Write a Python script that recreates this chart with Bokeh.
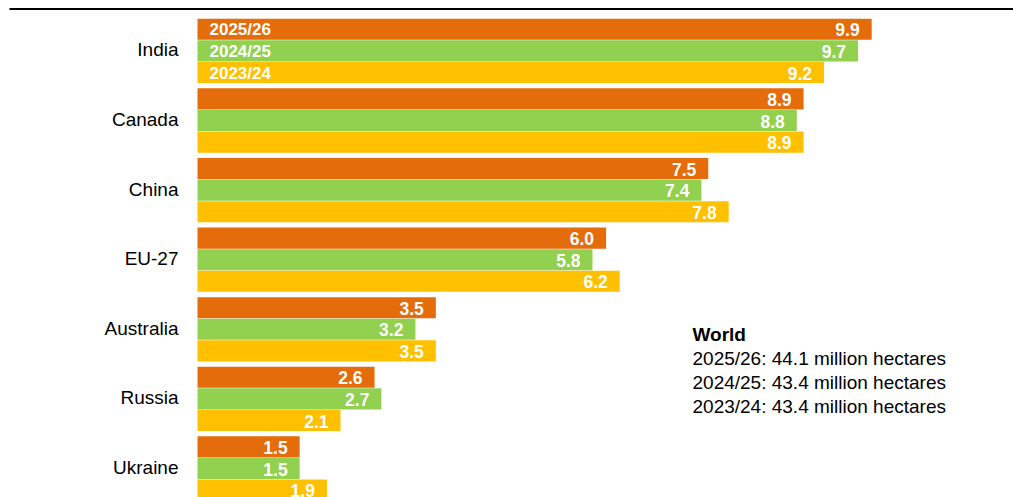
from bokeh.plotting import figure
from bokeh.models import ColumnDataSource, Range1d
from bokeh.core.properties import value
from bokeh.embed import file_html
from bokeh.resources import INLINE

countries = ["India", "Canada", "China", "EU-27", "Australia", "Russia", "Ukraine"]
years = ["2025/26", "2024/25", "2023/24"]
v2526 = [9.9, 8.9, 7.5, 6.0, 3.5, 2.6, 1.5]
v2425 = [9.7, 8.8, 7.4, 5.8, 3.2, 2.7, 1.5]
v2324 = [9.2, 8.9, 7.8, 6.2, 3.5, 2.1, 1.9]
world_title = "World"
world_lines = ["2025/26: 44.1 million hectares",
               "2024/25: 43.4 million hectares",
               "2023/24: 43.4 million hectares"]
colors = ["#E46C0A", "#92D050", "#FFC000"]

# layout (pixel-based vertical scale)
W, H = 1013, 497
PX_PER_UNIT = 68.1
LEFT = 197
SLOT = 21.6
PITCH = 69.6
TOP0 = 28.8
FONT = value("Liberation Sans")

p = figure(width=W, height=H, output_backend="svg", toolbar_location=None,
           x_range=Range1d(-LEFT / PX_PER_UNIT, (W - LEFT) / PX_PER_UNIT),
           y_range=Range1d(H, 0),
           x_axis_location=None, y_axis_location=None, min_border=0)
p.grid.visible = False
p.outline_line_color = None
p.background_fill_color = "white"

series = [v2526, v2425, v2324]
for k, vals in enumerate(series):
    ys = [TOP0 + PITCH * i + SLOT * k for i in range(len(countries))]
    src = ColumnDataSource(dict(y=ys, v=vals, lab=[f"{x:.1f}" for x in vals]))
    p.hbar(y="y", left=0, right="v", height=SLOT - 0.5, source=src,
           fill_color=colors[k], line_color=None)
    p.text(x="v", y="y", text="lab", source=src, text_align="right",
           text_baseline="middle", x_offset=-12, y_offset=0.5,
           text_color="white", text_font=FONT, text_font_style="bold",
           text_font_size="17.5px")

# year labels in first group
yl = ColumnDataSource(dict(x=[0, 0, 0], y=[TOP0 + SLOT * k for k in range(3)], t=years))
p.text(x="x", y="y", text="t", source=yl, x_offset=12, y_offset=0.5,
       text_align="left", text_baseline="middle", text_color="white",
       text_font=FONT, text_font_style="bold", text_font_size="17px")

# country labels
cl = ColumnDataSource(dict(x=[0] * len(countries),
                           y=[TOP0 + PITCH * i + SLOT - 1 for i in range(len(countries))],
                           t=countries))
p.text(x="x", y="y", text="t", source=cl, x_offset=-19, text_align="right",
       text_baseline="middle", text_color="#000000", text_font=FONT,
       text_font_size="19px")

# world annotation
wx = (692 - LEFT) / PX_PER_UNIT
p.text(x=[wx], y=[334], text=[world_title], text_align="left", text_baseline="middle",
       text_color="#000000", text_font=FONT, text_font_style="bold", text_font_size="19px")
wl = ColumnDataSource(dict(x=[wx] * 3, y=[358 + 24 * j for j in range(3)], t=world_lines))
p.text(x="x", y="y", text="t", source=wl, text_align="left", text_baseline="middle",
       text_color="#000000", text_font=FONT, text_font_size="19px")

# top rule
p.segment(x0=[(9 - LEFT) / PX_PER_UNIT], x1=[(W - LEFT) / PX_PER_UNIT], y0=[8.5], y1=[8.5],
          line_color="black", line_width=2)

open("out.html", "w").write(file_html(p, INLINE))
